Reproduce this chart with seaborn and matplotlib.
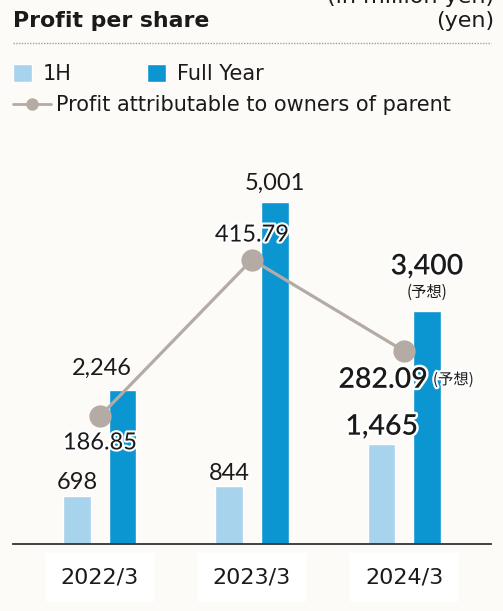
import matplotlib
matplotlib.use("Agg")
import matplotlib.pyplot as plt
import matplotlib.patheffects as pe
from matplotlib.lines import Line2D
import numpy as np
import pandas as pd
import seaborn as sns

# ---- data ----
years = ["2022/3", "2023/3", "2024/3"]
profit_1h = [698, 844, 1465]            # million yen
profit_full = [2246, 5001, 3400]        # million yen (2024/3 forecast)
eps = [186.85, 415.79, 282.09]          # yen per share (2024/3 forecast)
series_names = ["1H", "Full Year"]
line_name = "Profit attributable to owners of parent"
forecast_tag = "(予想)"

c_light = "#a8d3ec"
c_dark = "#0b95d1"
c_line = "#b5aba5"
bg = "#fcfbf8"
txt = "#1a1a1a"

sns.set_theme(style="white")
plt.rcParams["font.family"] = ["DejaVu Sans", "Noto Sans CJK JP"]
num_font = ["Lato", "Noto Sans CJK JP"]
jp_font = ["Noto Sans CJK JP"]

W, H = 503, 611
fig = plt.figure(figsize=(W / 100, H / 100), dpi=100, facecolor=bg)

# axes box in pixels: x 13..491, y 150..544 (from top)
ax = fig.add_axes([13 / W, (H - 544) / H, (491 - 13) / W, (544 - 150) / H])
ax.set_facecolor("none")

df = pd.DataFrame({
    "year": years * 2,
    "series": [series_names[0]] * 3 + [series_names[1]] * 3,
    "value": profit_1h + profit_full,
})
sns.barplot(data=df, x="year", y="value", hue="series", order=years,
            hue_order=series_names, palette=[c_light, c_dark],
            width=0.604, gap=0.41, saturation=1, ax=ax, legend=False)

ymax = 5761
ax.set_ylim(0, ymax)
ax.set_xlim(-0.572, 2.572)
for s in ["top", "right", "left"]:
    ax.spines[s].set_visible(False)
ax.spines["bottom"].set_color("#333333")
ax.spines["bottom"].set_linewidth(1.3)
ax.set_yticks([])
ax.set_xlabel("")
ax.set_ylabel("")
ax.tick_params(axis="x", length=0, pad=17, labelsize=16, labelcolor=txt)
for lab in ax.get_xticklabels():
    lab.set_bbox(dict(facecolor="white", edgecolor="none",
                      boxstyle="square,pad=0.65"))

# per-share profit on a secondary axis (same baseline, 1/10 the scale)
ax2 = ax.twinx()
ax2.set_ylim(0, ymax / 10)
ax2.set_axis_off()
xpos = np.arange(len(years))
sns.lineplot(x=xpos, y=eps, ax=ax2, color=c_line, linewidth=2.3,
             marker="o", markersize=16, markeredgewidth=0,
             markerfacecolor=c_line, legend=False, zorder=3)
ax2.set_xlim(ax.get_xlim())

halo = [pe.withStroke(linewidth=3, foreground="white")]
heavy = [pe.withStroke(linewidth=3.5, foreground="white")]

bar_dx = 0.151
reg = dict(fontsize=17, family=num_font, color=txt,
           ha="center", va="center")
big = dict(fontsize=20.5, family=num_font, fontweight="semibold", color=txt,
           ha="center", va="center")

# bar value labels
ax.text(0 - bar_dx, profit_1h[0] + 205, f"{profit_1h[0]:,}", **reg)
ax.text(1 - bar_dx, profit_1h[1] + 190, f"{profit_1h[1]:,}", **reg)
ax.text(2 - bar_dx + 0.005, profit_1h[2] + 250, f"{profit_1h[2]:,}",
        path_effects=heavy, **big)
ax.text(0 + bar_dx - 0.14, profit_full[0] + 322, f"{profit_full[0]:,}", **reg)
ax.text(1 + bar_dx, profit_full[1] + 278, f"{profit_full[1]:,}", **reg)
ax.text(2 + bar_dx, profit_full[2] + 658, f"{profit_full[2]:,}",
        path_effects=heavy, **big)
ax.text(2 + bar_dx, profit_full[2] + 278, forecast_tag, ha="center",
        va="center", fontsize=11, family=jp_font, color=txt)

# per-share labels
ax2.text(0, eps[0] - 39, f"{eps[0]:.2f}", path_effects=halo, zorder=5, **reg)
ax2.text(1, eps[1] + 36, f"{eps[1]:.2f}", path_effects=halo, zorder=5, **reg)
ax2.text(2.158, eps[2] - 42, f"{eps[2]:.2f}", fontsize=20.5, family=num_font,
         fontweight="semibold", color=txt, ha="right", va="center",
         path_effects=heavy, zorder=5)
ax2.text(2.19, eps[2] - 42, forecast_tag, ha="left", va="center",
         fontsize=11, family=jp_font, color=txt, path_effects=halo, zorder=5)

# header
fig.text(13 / W, 1 - 21 / H, "Profit per share", ha="left", va="center",
         fontsize=15.8, fontweight="bold", color=txt)
fig.text(494 / W, 1 - 21 / H, "(yen)", ha="right", va="center",
         fontsize=16, color=txt)
fig.text(494 / W, 1 + 3 / H, "(in million yen)", ha="right", va="center",
         fontsize=16, color=txt)
fig.add_artist(Line2D([13 / W, 491 / W], [1 - 43 / H, 1 - 43 / H],
                      transform=fig.transFigure, color="#a0a0a0",
                      linewidth=1, linestyle=(0, (1, 1))))

# legends
bars_1h = ax.containers[0].patches[0]
bars_full = ax.containers[1].patches[0]
fig.legend([bars_1h, bars_full], series_names, loc="upper left",
           bbox_to_anchor=(13 / W, 1 - 64 / H), ncol=2, frameon=False,
           fontsize=15, handlelength=0.91, handleheight=0.91,
           handletextpad=0.53, columnspacing=3.6, labelcolor=txt,
           borderaxespad=0, borderpad=0)
line_handle = Line2D([], [], color=c_line, linewidth=2, marker="o",
                     markersize=9, markeredgewidth=0)
fig.legend([line_handle], [line_name], loc="upper left",
           bbox_to_anchor=(13 / W, 1 - 95 / H), frameon=False, fontsize=15,
           handlelength=1.8, handletextpad=0.25, labelcolor=txt,
           borderaxespad=0, borderpad=0)

fig.savefig("out.png", dpi=100, facecolor=bg)
